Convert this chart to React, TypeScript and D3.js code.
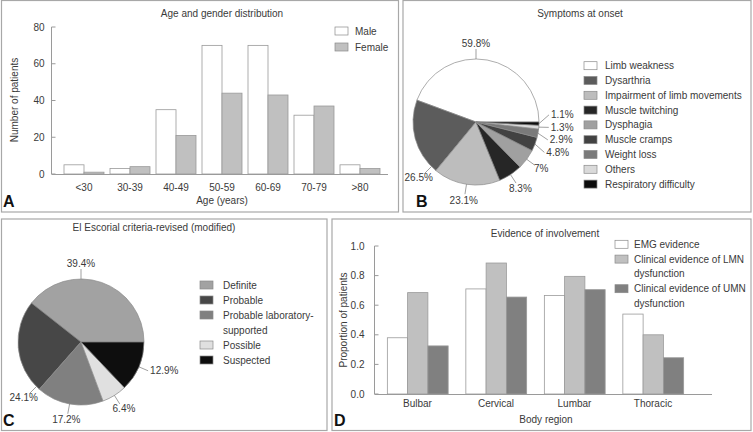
import React from "react";
import * as d3 from "d3";

// ---------- DATA ----------
const ageGroups = ["<30", "30-39", "40-49", "50-59", "60-69", "70-79", ">80"];
const maleCounts = [5, 3, 35, 70, 70, 32, 5];
const femaleCounts = [1, 4, 21, 44, 43, 37, 3];
const ageTicks = [0, 20, 40, 60, 80];
const genderSeries = ["Male", "Female"];

const symptomLabels = [
  "Limb weakness",
  "Dysarthria",
  "Impairment of limb movements",
  "Muscle twitching",
  "Dysphagia",
  "Muscle cramps",
  "Weight loss",
  "Others",
  "Respiratory difficulty",
];
const symptomPct = [59.8, 26.5, 23.1, 8.3, 7, 4.8, 2.9, 1.3, 1.1];

const criteriaLabels = [
  ["Definite"],
  ["Probable"],
  ["Probable laboratory-", "supported"],
  ["Possible"],
  ["Suspected"],
];
const criteriaPct = [39.4, 24.1, 17.2, 6.4, 12.9];

const regions = ["Bulbar", "Cervical", "Lumbar", "Thoracic"];
const emgEvidence = [0.38, 0.71, 0.665, 0.54];
const lmnEvidence = [0.685, 0.885, 0.795, 0.4];
const umnEvidence = [0.325, 0.655, 0.705, 0.245];
const evidenceSeries = [
  ["EMG evidence"],
  ["Clinical evidence of LMN", "dysfunction"],
  ["Clinical evidence of UMN", "dysfunction"],
];
const proportionTicks = [0, 0.2, 0.4, 0.6, 0.8, 1.0];

// ---------- STYLE ----------
const FONT = "'Liberation Sans', Arial, sans-serif";
const TXT = "#3a3a3a";
const AXIS = "#9a9a9a";
const BORDER = "#a8a8a8";
const BAR_STROKE = "#9a9a9a";
const genderColors = ["#ffffff", "#c0c0c0"];
const symptomColors = ["#ffffff", "#5c5c5c", "#bdbdbd", "#262626", "#a0a0a0", "#424242", "#7a7a7a", "#dadada", "#0c0c0c"];
const criteriaColors = ["#a2a2a2", "#474747", "#808080", "#e0e0e0", "#0e0e0e"];
const evidenceColors = ["#ffffff", "#c0c0c0", "#808080"];

type PieProps = { cx: number; cy: number; r: number; values: number[]; colors: string[] };

function PieChart({ cx, cy, r, values, colors }: PieProps) {
  const pie = d3
    .pie<number>()
    .sort(null)
    .value((d) => d)
    .startAngle(Math.PI / 2)
    .endAngle(Math.PI / 2 - 2 * Math.PI);
  const arcs = pie(values);
  const arcGen = d3.arc<d3.PieArcDatum<number>>().innerRadius(0).outerRadius(r);

  const labels = arcs.map((a, i) => {
    const ts = 90 - (a.startAngle * 180) / Math.PI;
    const te = 90 - (a.endAngle * 180) / Math.PI;
    const span = te - ts;
    let t = (ts + te) / 2;
    if (ts <= 90 && te >= 90 && span > 90) t = 90;
    else if (t > 135 && t < 225) {
      t = t - 135 < 225 - t ? 135 : 225;
      t = Math.max(ts + 0.03 * span, Math.min(te - 0.03 * span, t));
    }
    const rad = (t * Math.PI) / 180;
    const ux = Math.cos(rad);
    const uy = -Math.sin(rad);
    return {
      i,
      ux,
      uy,
      ex: cx + r * ux,
      ey: cy + r * uy,
      lx: cx + (r + 10) * ux,
      ly: cy + (r + 10) * uy,
      side: ux > 0.85 ? 1 : ux < -0.85 ? -1 : 0,
    };
  });
  const right = labels.filter((l) => l.side === 1).sort((a, b) => a.ly - b.ly);
  const gap = 12.5;
  for (let k = 0; k < 200; k++) {
    for (let j = 1; j < right.length; j++) {
      const d = right[j].ly - right[j - 1].ly;
      if (d < gap) {
        const p = (gap - d) / 2;
        right[j].ly += p;
        right[j - 1].ly -= p;
      }
    }
  }

  return (
    <g>
      {arcs.map((a, i) => (
        <path
          key={i}
          d={arcGen(a) || ""}
          transform={`translate(${cx},${cy})`}
          fill={colors[i]}
          stroke="#8a8a8a"
          strokeWidth={0.7}
        />
      ))}
      {labels.map((l) => {
        const txt = `${values[l.i]}%`;
        let tx: number, ty: number, anchor: string;
        if (l.side === 1) {
          tx = l.lx + 2;
          ty = l.ly;
          anchor = "start";
        } else if (l.side === -1) {
          tx = l.lx - 2;
          ty = l.ly;
          anchor = "end";
        } else {
          tx = l.lx + l.ux * 8;
          ty = l.ly + l.uy * 6;
          anchor = "middle";
        }
        return (
          <g key={"l" + l.i}>
            <line x1={l.ex} y1={l.ey} x2={l.lx} y2={l.ly} stroke="#777" strokeWidth={0.7} />
            <text x={tx} y={ty} textAnchor={anchor as any} dominantBaseline="central" fontSize={10} fill={TXT}>
              {txt}
            </text>
          </g>
        );
      })}
    </g>
  );
}

function Legend({ x, y, rows, colors, lineH, textDx }: { x: number; y: number; rows: string[][]; colors: string[]; lineH: number; textDx: number }) {
  let cur = y;
  const items = rows.map((lines, i) => {
    const yy = cur;
    cur += lineH * lines.length;
    return (
      <g key={i}>
        <rect x={x} y={yy - 4} width={13} height={8} fill={colors[i]} stroke="#8a8a8a" strokeWidth={0.7} />
        {lines.map((ln, k) => (
          <text key={k} x={x + textDx} y={yy + k * lineH} dominantBaseline="central" fontSize={10} fill={TXT}>
            {ln}
          </text>
        ))}
      </g>
    );
  });
  return <g>{items}</g>;
}

function PanelA() {
  const y = d3.scaleLinear().domain([0, 80]).range([174, 27]);
  const x0 = d3.scaleBand<string>().domain(ageGroups).range([61, 383]).padding(0);
  const x1 = d3.scaleBand<string>().domain(genderSeries).range([3, 43]).padding(0);
  const series = [maleCounts, femaleCounts];
  const axisX = 51.5;
  return (
    <g>
      <rect x={1.5} y={0.5} width={397} height={211.5} fill="none" stroke={BORDER} strokeWidth={1.2} />
      <text x={222} y={17} textAnchor="middle" fontSize={10} fill={TXT}>
        Age and gender distribution
      </text>
      {ageGroups.map((g, i) =>
        series.map((s, k) => (
          <rect
            key={g + k}
            x={(x0(g) as number) + (x1(genderSeries[k]) as number)}
            y={y(s[i])}
            width={x1.bandwidth()}
            height={y(0) - y(s[i])}
            fill={genderColors[k]}
            stroke={BAR_STROKE}
            strokeWidth={0.8}
          />
        ))
      )}
      <line x1={axisX} y1={y(80)} x2={axisX} y2={y(0)} stroke={AXIS} />
      <line x1={axisX} y1={y(0) + 0.5} x2={388} y2={y(0) + 0.5} stroke={AXIS} />
      {ageTicks.map((t) => (
        <g key={t}>
          <line x1={axisX} x2={axisX + 4} y1={y(t)} y2={y(t)} stroke={AXIS} />
          <text x={axisX - 7} y={y(t)} textAnchor="end" dominantBaseline="central" fontSize={10} fill={TXT}>
            {t}
          </text>
        </g>
      ))}
      {ageGroups.map((g) => (
        <text key={g} x={(x0(g) as number) + x0.bandwidth() / 2} y={187} textAnchor="middle" dominantBaseline="central" fontSize={10} fill={TXT}>
          {g}
        </text>
      ))}
      <text x={222} y={200} textAnchor="middle" dominantBaseline="central" fontSize={10} fill={TXT}>
        Age (years)
      </text>
      <text transform="translate(14,100) rotate(-90)" textAnchor="middle" dominantBaseline="central" fontSize={10} fill={TXT}>
        Number of patients
      </text>
      <Legend x={335} y={31} rows={genderSeries.map((s) => [s])} colors={genderColors} lineH={16} textDx={20} />
      <text x={3} y={207} fontSize={16} fontWeight="bold" fill="#111">
        A
      </text>
    </g>
  );
}

function PanelB() {
  return (
    <g>
      <rect x={403} y={0.5} width={348} height={211.5} fill="none" stroke={BORDER} strokeWidth={1.2} />
      <text x={580} y={17} textAnchor="middle" fontSize={10} fill={TXT}>
        Symptoms at onset
      </text>
      <PieChart cx={476} cy={122} r={63} values={symptomPct} colors={symptomColors} />
      <Legend x={584} y={65.7} rows={symptomLabels.map((s) => [s])} colors={symptomColors} lineH={14.8} textDx={21} />
      <text x={416} y={207} fontSize={16} fontWeight="bold" fill="#111">
        B
      </text>
    </g>
  );
}

function PanelC() {
  return (
    <g>
      <rect x={1.5} y={219} width={325.5} height={211.5} fill="none" stroke={BORDER} strokeWidth={1.2} />
      <text x={154} y={231} textAnchor="middle" fontSize={10} fill={TXT}>
        El Escorial criteria-revised (modified)
      </text>
      <PieChart cx={81} cy={342} r={63} values={criteriaPct} colors={criteriaColors} />
      <Legend x={200} y={285} rows={criteriaLabels} colors={criteriaColors} lineH={15} textDx={23} />
      <text x={3} y={426} fontSize={16} fontWeight="bold" fill="#111">
        C
      </text>
    </g>
  );
}

function PanelD() {
  const y = d3.scaleLinear().domain([0, 1]).range([394, 246]);
  const x0 = d3.scaleBand<string>().domain(regions).range([378.25, 692.25]).padding(0);
  const keys = ["emg", "lmn", "umn"];
  const x1 = d3.scaleBand<string>().domain(keys).range([9.1, 69.9]).padding(0);
  const series = [emgEvidence, lmnEvidence, umnEvidence];
  const fmt = d3.format(".1f");
  const axisX = 374.5;
  return (
    <g>
      <rect x={332} y={219} width={419} height={211.5} fill="none" stroke={BORDER} strokeWidth={1.2} />
      <text x={545} y={237} textAnchor="middle" fontSize={10} fill={TXT}>
        Evidence of involvement
      </text>
      {regions.map((g, i) =>
        series.map((s, k) => (
          <rect
            key={g + k}
            x={(x0(g) as number) + (x1(keys[k]) as number)}
            y={y(s[i])}
            width={x1.bandwidth()}
            height={y(0) - y(s[i])}
            fill={evidenceColors[k]}
            stroke={BAR_STROKE}
            strokeWidth={0.8}
          />
        ))
      )}
      <line x1={axisX} y1={y(1)} x2={axisX} y2={y(0)} stroke={AXIS} />
      <line x1={axisX} y1={y(0) + 0.5} x2={712} y2={y(0) + 0.5} stroke={AXIS} />
      {proportionTicks.map((t) => (
        <g key={t}>
          <line x1={axisX} x2={axisX + 4} y1={y(t)} y2={y(t)} stroke={AXIS} />
          <text x={axisX - 10} y={y(t)} textAnchor="end" dominantBaseline="central" fontSize={10} fill={TXT}>
            {fmt(t)}
          </text>
        </g>
      ))}
      {regions.map((g) => (
        <text key={g} x={(x0(g) as number) + x0.bandwidth() / 2} y={403} textAnchor="middle" dominantBaseline="central" fontSize={10} fill={TXT}>
          {g}
        </text>
      ))}
      <text x={546} y={419} textAnchor="middle" dominantBaseline="central" fontSize={10} fill={TXT}>
        Body region
      </text>
      <text transform="translate(343,320) rotate(-90)" textAnchor="middle" dominantBaseline="central" fontSize={10} fill={TXT}>
        Proportion of patients
      </text>
      <Legend x={615} y={244.3} rows={evidenceSeries} colors={evidenceColors} lineH={14.8} textDx={19} />
      <text x={334} y={426} fontSize={16} fontWeight="bold" fill="#111">
        D
      </text>
    </g>
  );
}

export default function App() {
  return (
    <svg
      width={753}
      height={432}
      viewBox="0 0 753 432"
      style={{ position: "absolute", left: 0, top: 0, background: "#fff", fontFamily: FONT }}
    >
      <rect x={0} y={0} width={753} height={432} fill="#fff" />
      <PanelA />
      <PanelB />
      <PanelC />
      <PanelD />
    </svg>
  );
}
